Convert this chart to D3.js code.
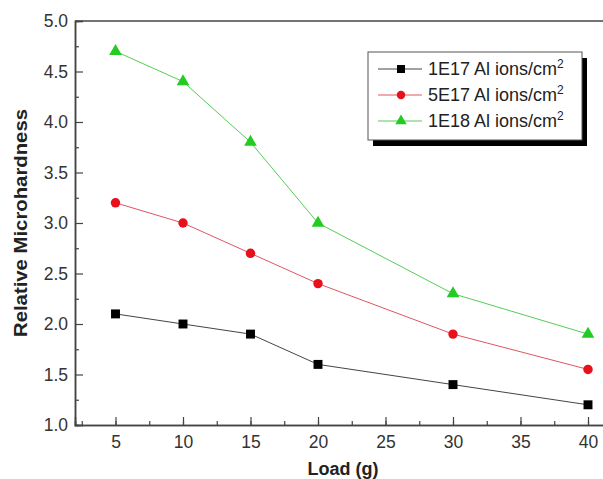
<!DOCTYPE html>
<html>
<head>
<meta charset="utf-8">
<script src="https://cdn.jsdelivr.net/npm/d3@7"></script>
<style>
  html, body { margin: 0; padding: 0; background: #fff; }
  svg { display: block; font-family: "Liberation Sans", Arial, sans-serif; }
</style>
</head>
<body>
<svg id="chart" width="603" height="479"></svg>
<script>
// ── data ──
const loads   = [5, 10, 15, 20, 30, 40];
const dose1e17 = [2.1, 2.0, 1.9, 1.6, 1.4, 1.2];
const dose5e17 = [3.2, 3.0, 2.7, 2.4, 1.9, 1.55];
const dose1e18 = [4.7, 4.4, 3.8, 3.0, 2.3, 1.9];
const seriesNames = ['1E17 Al ions/cm', '5E17 Al ions/cm', '1E18 Al ions/cm'];
const xTicks = [5, 10, 15, 20, 25, 30, 35, 40];
const yTicks = [1.0, 1.5, 2.0, 2.5, 3.0, 3.5, 4.0, 4.5, 5.0];

const series = [
  { name: seriesNames[0], values: dose1e17, color: '#000000', line: '#444444', shape: d3.symbolSquare,   size: 80 },
  { name: seriesNames[1], values: dose5e17, color: '#e8101a', line: '#e05560', shape: d3.symbolCircle,   size: 70 },
  { name: seriesNames[2], values: dose1e18, color: '#22cc22', line: '#55cc55', shape: d3.symbolTriangle, size: 70 }
];

const svg = d3.select('#chart');
const L = 75, R = 615, T = 21, B = 425;

const x = d3.scaleLinear().domain([2, 42]).range([L, R]);
const y = d3.scaleLinear().domain([1, 5]).range([B, T]);

const axisCol = '#444';

// ── frame ──
svg.append('line').attr('x1', L).attr('x2', R).attr('y1', T).attr('y2', T)
  .attr('stroke', axisCol).attr('stroke-width', 1.5);

// ── x axis (minor + major) ──
const gx = svg.append('g').attr('transform', `translate(0,${B})`);
gx.call(d3.axisBottom(x).tickValues(d3.range(2.5, 42, 2.5)).tickSize(-4).tickFormat(''));
gx.selectAll('.tick line').attr('stroke', axisCol).attr('stroke-width', 1.2);
const gx2 = svg.append('g').attr('transform', `translate(0,${B})`);
gx2.call(d3.axisBottom(x).tickValues(xTicks).tickSize(-8).tickPadding(11).tickFormat(d3.format('d')));
gx2.selectAll('.tick line').attr('stroke', axisCol).attr('stroke-width', 1.2);
gx2.selectAll('.tick text').style('font-size', '17.5px').attr('fill', '#333').attr('font-family', null);
[gx, gx2].forEach(g => g.select('.domain').attr('stroke', axisCol).attr('stroke-width', 1.5));

// ── y axis (minor + major) ──
const gy = svg.append('g').attr('transform', `translate(${L},0)`);
gy.call(d3.axisLeft(y).tickValues(d3.range(1.25, 5, 0.5)).tickSize(-4).tickFormat(''));
gy.selectAll('.tick line').attr('stroke', axisCol).attr('stroke-width', 1.2);
const gy2 = svg.append('g').attr('transform', `translate(${L},0)`);
gy2.call(d3.axisLeft(y).tickValues(yTicks).tickSize(-8).tickPadding(7).tickFormat(d3.format('.1f')));
gy2.selectAll('.tick text').style('font-size', '17.5px').attr('fill', '#333').attr('font-family', null);
gy2.selectAll('.tick line').attr('stroke', axisCol).attr('stroke-width', 1.2);
[gy, gy2].forEach(g => g.select('.domain').attr('stroke', axisCol).attr('stroke-width', 1.5));

// ── titles ──
svg.append('text').attr('x', 343).attr('y', 475).attr('text-anchor', 'middle')
  .attr('font-size', 18).attr('font-weight', 'bold').attr('fill', '#222').text('Load (g)');
svg.append('text').attr('transform', 'translate(27,223) rotate(-90)').attr('text-anchor', 'middle')
  .attr('font-size', 18).attr('font-weight', 'bold').attr('fill', '#222')
  .attr('textLength', 228).attr('lengthAdjust', 'spacingAndGlyphs').text('Relative Microhardness');

// ── series ──
const line = d3.line().x((d, i) => x(loads[i])).y(d => y(d));
series.forEach(s => {
  svg.append('path').datum(s.values).attr('d', line)
    .attr('fill', 'none').attr('stroke', s.line).attr('stroke-width', 1);
  svg.selectAll(null).data(s.values).enter().append('path')
    .attr('transform', (d, i) => `translate(${x(loads[i])},${y(d)})`)
    .attr('d', d3.symbol().type(s.shape).size(s.size))
    .attr('fill', s.color);
});

// ── legend ──
const lg = svg.append('g');
const bx = 368, by = 52, bw = 214, bh = 88;
lg.append('rect').attr('x', bx + 5).attr('y', by + 6).attr('width', bw).attr('height', bh).attr('fill', '#000');
lg.append('rect').attr('x', bx).attr('y', by).attr('width', bw).attr('height', bh)
  .attr('fill', '#fff').attr('stroke', '#555').attr('stroke-width', 1);
series.forEach((s, i) => {
  const yy = by + 17 + i * 26;
  lg.append('line').attr('x1', bx + 10).attr('x2', bx + 54).attr('y1', yy).attr('y2', yy)
    .attr('stroke', s.line).attr('stroke-width', 1);
  lg.append('path').attr('transform', `translate(${bx + 33},${yy})`)
    .attr('d', d3.symbol().type(s.shape).size(s.size * 0.8)).attr('fill', s.color);
  const t = lg.append('text').attr('x', bx + 60).attr('y', yy + 6).style('font-size', '18px').attr('fill', '#222');
  t.append('tspan').text(s.name);
  t.append('tspan').attr('dy', -7).style('font-size', '12px').text('2');
});
</script>
</body>
</html>
